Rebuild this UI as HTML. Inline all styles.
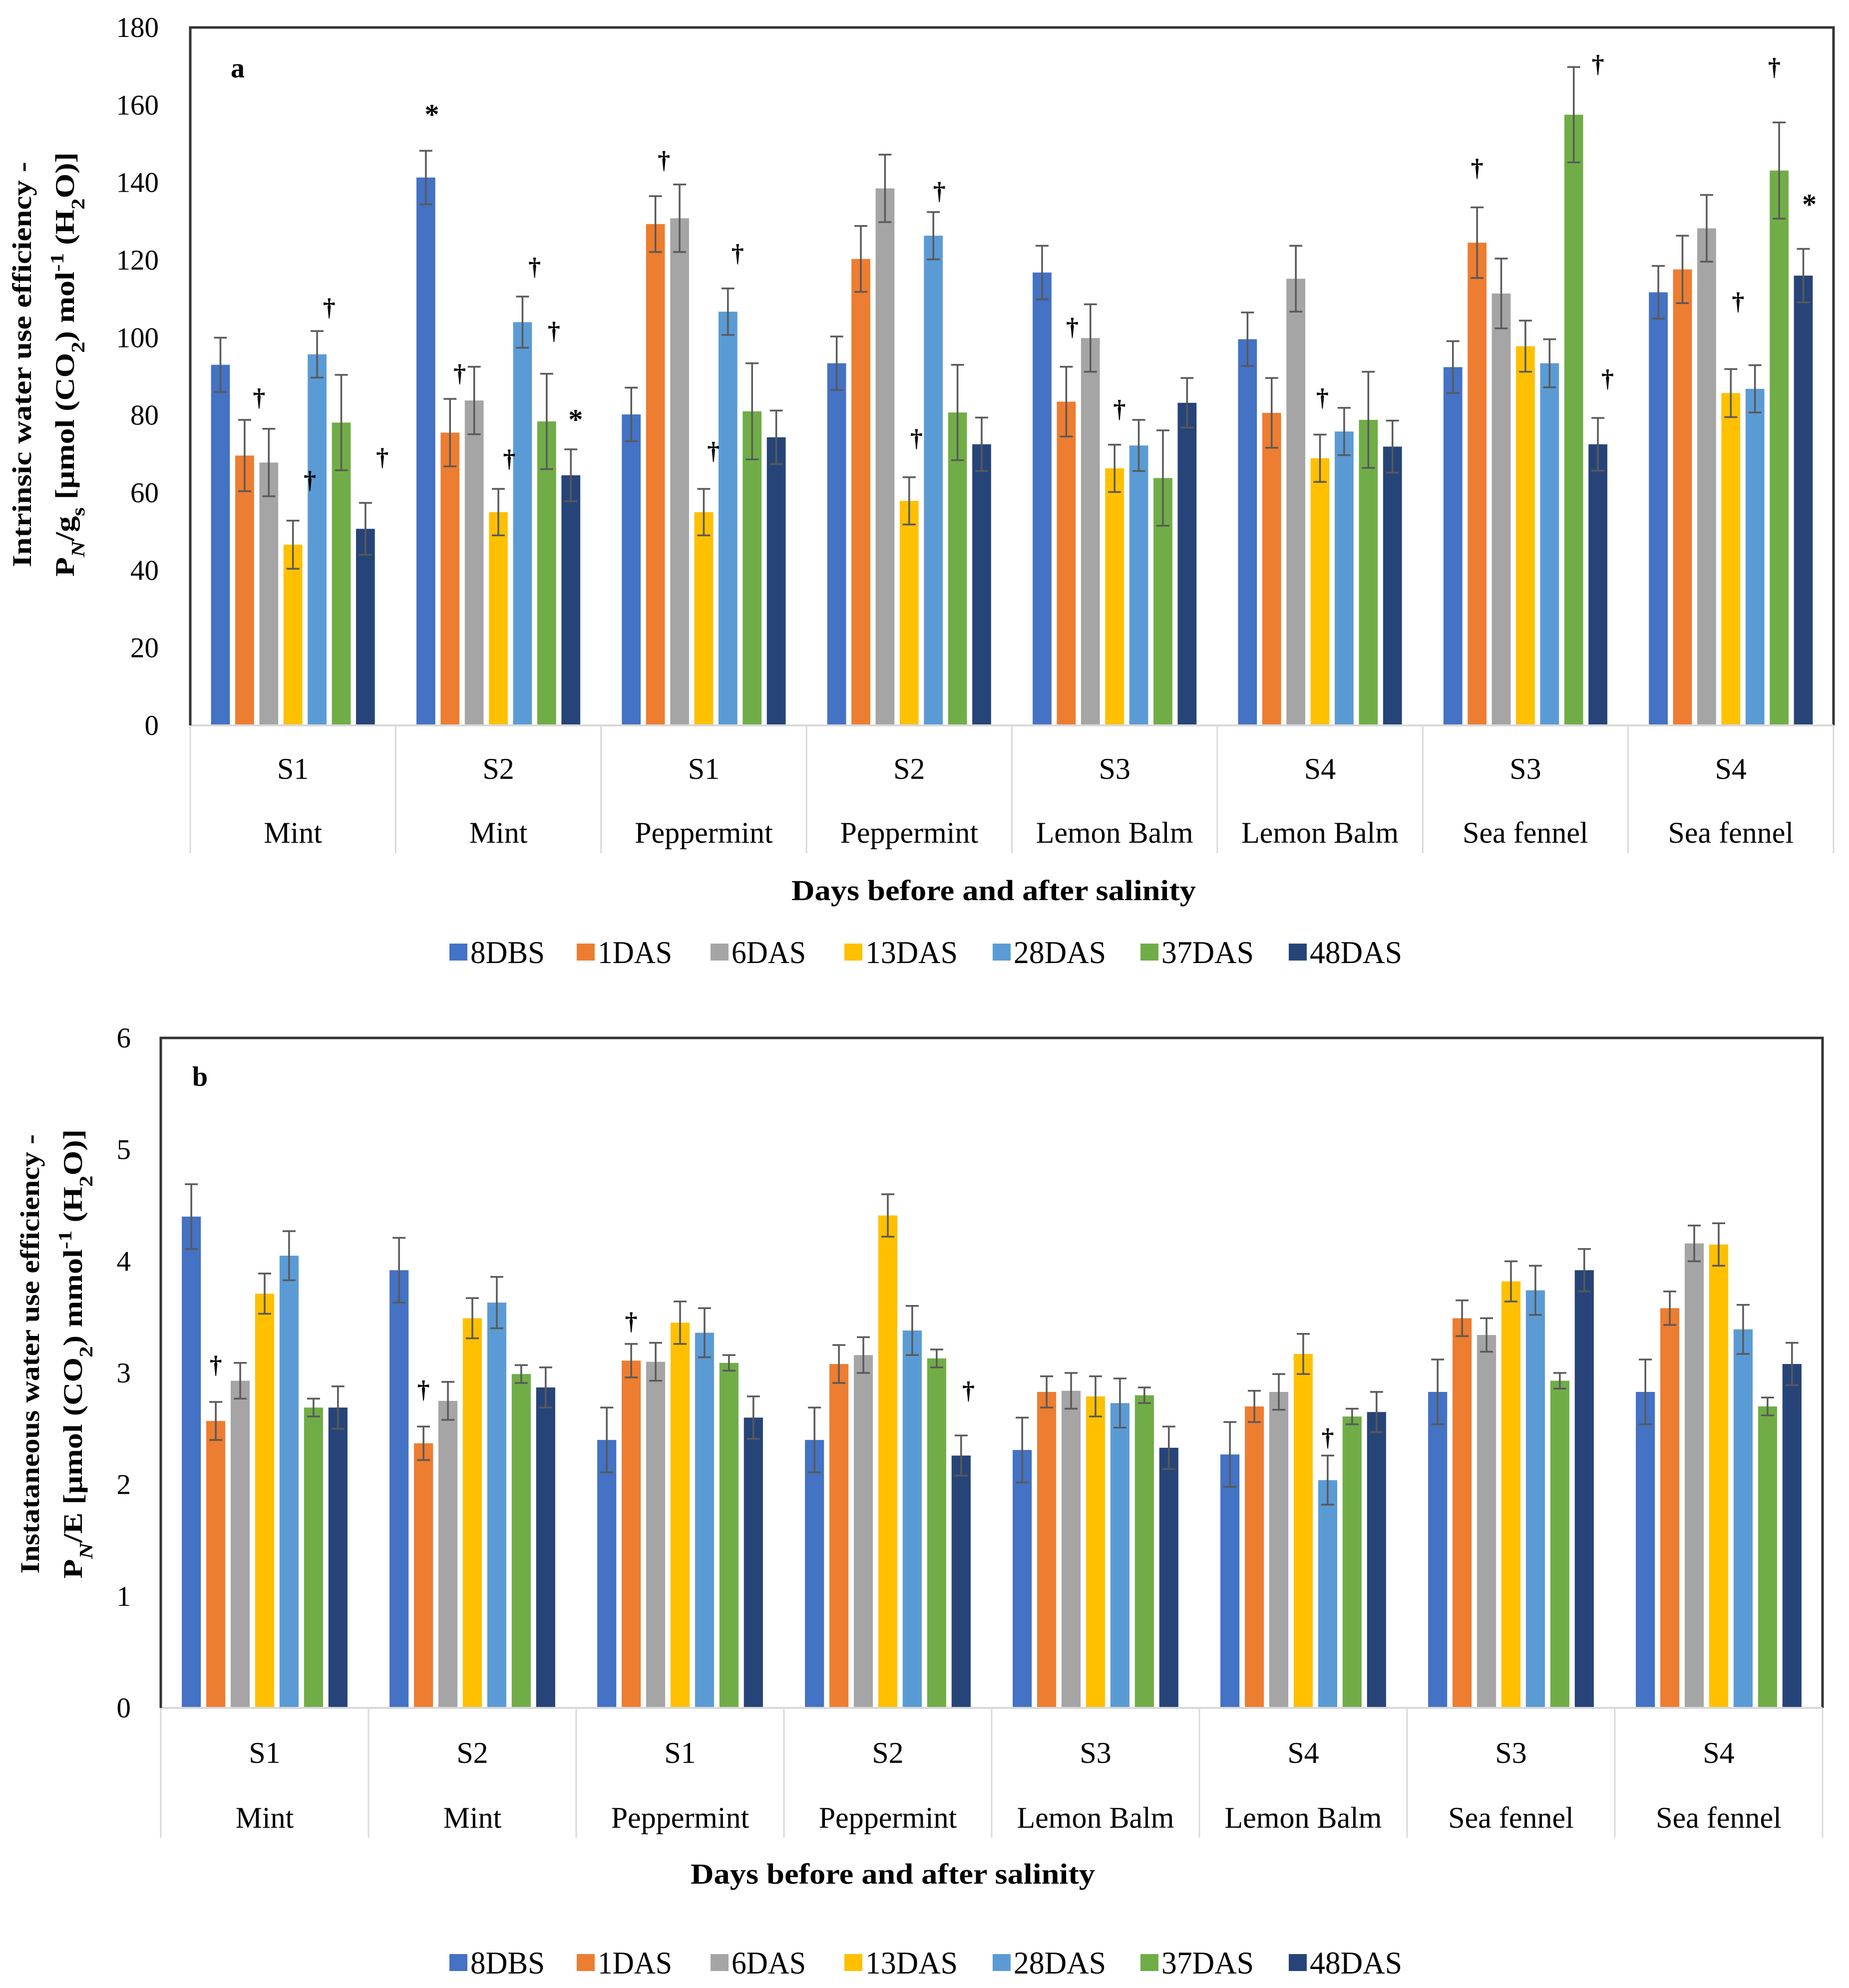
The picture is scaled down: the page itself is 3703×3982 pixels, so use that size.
<!DOCTYPE html>
<html><head><meta charset="utf-8">
<style>
html,body{margin:0;padding:0;background:#fff;}
svg{display:block;}
text{font-family:"Liberation Serif",serif;fill:#000;}
</style></head>
<body>
<svg id="root" width="3703" height="3982" viewBox="0 0 3703 3982" xmlns="http://www.w3.org/2000/svg"></svg>
<script>
const seriesNames = ["8DBS","1DAS","6DAS","13DAS","28DAS","37DAS","48DAS"];
const seriesColors = ["#4472C4","#ED7D31","#A5A5A5","#FFC000","#5B9BD5","#70AD47","#264478"];
const salinity = ["S1","S2","S1","S2","S3","S4","S3","S4"];
const plants = ["Mint","Mint","Peppermint","Peppermint","Lemon Balm","Lemon Balm","Sea fennel","Sea fennel"];

const aValues = [
 [93,69.6,67.8,46.6,95.7,78.1,50.7],
 [141.3,75.5,83.8,55,104,78.4,64.5],
 [80.2,129.3,130.8,55,106.7,81,74.3],
 [93.4,120.3,138.5,57.9,126.3,80.7,72.5],
 [116.8,83.5,99.9,66.3,72.2,63.8,83.2],
 [99.6,80.6,115.2,68.9,75.8,78.8,71.9],
 [92.4,124.5,111.4,97.8,93.4,157.5,72.5],
 [111.7,117.6,128.2,85.7,86.8,143.1,116]
];
const aErrors = [
 [7,9.2,8.7,6.2,6,12.3,6.7],
 [6.9,8.7,8.7,6,6.6,12.3,6.7],
 [6.9,7.2,8.7,6,6,12.4,6.9],
 [6.9,8.5,8.7,6.1,6.1,12.3,6.9],
 [6.9,9,8.7,6.1,6.6,12.3,6.4],
 [6.9,9,8.5,6.1,6.1,12.4,6.7],
 [6.7,9.1,9,6.6,6.2,12.3,6.8],
 [6.8,8.7,8.6,6.2,6.1,12.4,6.9]
];
const aTicks = [0,20,40,60,80,100,120,140,160,180];
const aMarkers = [
 [0,1,"†",84.8,0.6],[0,3,"†",63.5,0.7],[0,4,"†",108,0.5],[0,6,"†",69.4,0.7],
 [1,0,"*",158.7,0.25],[1,1,"†",91,0.4],[1,3,"†",69,0.45],[1,4,"†",118.5,0.5],[1,5,"†",102,0.3],[1,6,"*",80,0.2],
 [2,1,"†",146,0.35],[2,3,"†",71,0.4],[2,4,"†",122,0.4],
 [3,4,"†",138,0.25],[3,3,"†",74.3,0.3],
 [4,1,"†",103,0.25],[4,3,"†",81.8,0.2],
 [5,3,"†",84.8,0.1],
 [6,1,"†",144,0],[6,5,"†",170.8,1.0],[6,6,"†",89.7,0.4],
 [7,5,"†",170,-0.2],[7,3,"†",109.6,0.3],[7,6,"*",135.5,0.25]
];

const bValues = [
 [4.40,2.57,2.93,3.71,4.05,2.69,2.69],
 [3.92,2.37,2.75,3.49,3.63,2.99,2.87],
 [2.40,3.11,3.10,3.45,3.36,3.09,2.60],
 [2.40,3.08,3.16,4.41,3.38,3.13,2.26],
 [2.31,2.83,2.84,2.79,2.73,2.80,2.33],
 [2.27,2.70,2.83,3.17,2.04,2.61,2.65],
 [2.83,3.49,3.34,3.82,3.74,2.93,3.92],
 [2.83,3.58,4.16,4.15,3.39,2.70,3.08]
];
const bErrors = [
 [0.29,0.17,0.16,0.18,0.22,0.08,0.19],
 [0.29,0.15,0.17,0.18,0.23,0.08,0.18],
 [0.29,0.15,0.17,0.19,0.22,0.07,0.19],
 [0.29,0.17,0.16,0.19,0.22,0.08,0.18],
 [0.29,0.14,0.16,0.18,0.22,0.07,0.19],
 [0.29,0.14,0.16,0.18,0.22,0.07,0.18],
 [0.29,0.16,0.15,0.18,0.22,0.07,0.19],
 [0.29,0.15,0.16,0.19,0.22,0.08,0.19]
];
const bTicks = [0,1,2,3,4,5,6];
const bMarkers = [
 [0,1,"†",3.08,0],[1,1,"†",2.86,0],[2,1,"†",3.47,0],[3,6,"†",2.85,0.3],[5,4,"†",2.43,0]
];

const NS = "http://www.w3.org/2000/svg";
const root = document.getElementById("root");
function mk(tag, attrs, parent){
  const e = document.createElementNS(NS, tag);
  for (const k in attrs) e.setAttribute(k, attrs[k]);
  (parent||root).appendChild(e);
  return e;
}

function drawChart(cfg){
  const g = mk("g", {});
  
  
  const L=cfg.left, R=cfg.right, T=cfg.top, B=cfg.bottom;
  const catW = (R-L)/8;
  const y = v => B - (v - 0)/(cfg.max) * (B-T);
  const step = catW/8.5;
  const bw = step*0.78;
  const xBar = (c,s) => L + c*catW + 0.75*step + s*step + (step-bw)/2;

  const fr = mk("path", {d:`M${L} ${B} L${L} ${T} L${R} ${T} L${R} ${B}`, fill:"none", stroke:"#333", "stroke-width":5}, g);
  
  
  cfg.ticks.forEach(t=>{
    const tx = mk("text", {x:cfg.tickX, y:y(t)+19, "text-anchor":"end", "font-size":57}, g);
    tx.textContent = t;
    
    
  });
  for (let i=0;i<=8;i++){
    const ln = mk("line", {x1:L+i*catW, x2:L+i*catW, y1:B, y2:cfg.catBottom, stroke:"#d9d9d9", "stroke-width":3}, g);
    
    
  }
  cfg.values.forEach((row,c)=>{
    row.forEach((v,s)=>{
      const x = xBar(c,s);
      const r = mk("rect", {x:x, y:y(v), width:bw, height:B-y(v), fill:seriesColors[s]}, g);
      
      
      const e = cfg.errors[c][s];
      const cx = x + bw/2;
      const eb = mk("path", {d:`M${cx} ${y(v-e)} L${cx} ${y(v+e)} M${cx-13} ${y(v+e)} L${cx+13} ${y(v+e)} M${cx-13} ${y(v-e)} L${cx+13} ${y(v-e)}`, stroke:"#595959", "stroke-width":3.5, fill:"none"}, g);
      
      
    });
  });
  const xa = mk("line", {x1:L, x2:R, y1:B, y2:B, stroke:"#d9d9d9", "stroke-width":4}, g);
  
  
  const ya = mk("line", {x1:L, x2:L, y1:T, y2:B, stroke:"#333", "stroke-width":5}, g);
  
  
  cfg.markers.forEach(m=>{
    const cx = xBar(m[0],m[1]) + bw/2 + m[4]*step;
    const tx = mk("text", {x:cx, y:y(m[3]) + (m[2]==="*"?28:18), "text-anchor":"middle", "font-size":m[2]==="*"?58:50, "font-weight":"bold", "font-family":"DejaVu Sans, sans-serif"}, g);
    tx.textContent = m[2];
    
    
  });
  for (let i=0;i<8;i++){
    const cx = L + (i+0.5)*catW;
    const t1 = mk("text", {x:cx, y:cfg.sY, "text-anchor":"middle", "font-size":60}, g);
    t1.textContent = salinity[i];
    
    
    const t2 = mk("text", {x:cx, y:cfg.pY, "text-anchor":"middle", "font-size":60}, g);
    t2.textContent = plants[i];
    
    
  }
  const xt = mk("text", {x:cfg.xtX, y:cfg.xtY, "text-anchor":"middle", "font-size":58, "font-weight":"bold", textLength:810, lengthAdjust:"spacingAndGlyphs"}, g);
  xt.textContent = "Days before and after salinity";
  
  
  const pl = mk("text", {x:cfg.letterX, y:cfg.letterY, "font-size":56, "font-weight":"bold"}, g);
  pl.textContent = cfg.id;
  
  
  const yg = mk("g", {transform:`translate(${cfg.ytX},${cfg.ytY}) rotate(-90)`}, g);
  
  
  const l1 = mk("text", {x:0, y:0, "text-anchor":"middle", "font-size":54, "font-weight":"bold", textLength:cfg.yt1Len, lengthAdjust:"spacingAndGlyphs"}, yg);
  l1.textContent = cfg.yt1;
  const l2 = mk("text", {x:0, y:cfg.ytGap, "text-anchor":"middle", "font-size":54, "font-weight":"bold", textLength:cfg.yt2Len, lengthAdjust:"spacingAndGlyphs"}, yg);
  l2.innerHTML = cfg.yt2;
  const legX = [900,1155,1423,1691,1988,2284,2581];
  seriesNames.forEach((n,i)=>{
    const lg = mk("g", {}, g);
    
    
    mk("rect", {x:legX[i], y:cfg.legY-17, width:36, height:34, fill:seriesColors[i]}, lg);
    const lt = mk("text", {x:legX[i]+42, y:cfg.legY+22, "font-size":64, textLength:n.length*36+5, lengthAdjust:"spacingAndGlyphs"}, lg);
    lt.textContent = n;
  });
}

drawChart({id:"a", left:381, right:3672, top:55, bottom:1453, max:180, ticks:aTicks,
  values:aValues, errors:aErrors, markers:aMarkers, tickX:318, catBottom:1709,
  sY:1560, pY:1688, xtX:1990, xtY:1803, letterX:462, letterY:155, legY:1907,
  ytX:62, ytY:730, ytGap:86, yt1:"Intrinsic water use efficiency -", yt1Len:812, yt2Len:850,
  yt2:'P<tspan baseline-shift="sub" font-size="38" font-style="italic">N</tspan>/g<tspan baseline-shift="sub" font-size="38">s</tspan>  [μmol (CO<tspan baseline-shift="sub" font-size="38">2</tspan>) mol<tspan baseline-shift="super" font-size="38">-1</tspan> (H<tspan baseline-shift="sub" font-size="38">2</tspan>O)]'});

drawChart({id:"b", left:322, right:3650, top:2079, bottom:3421, max:6, ticks:bTicks,
  values:bValues, errors:bErrors, markers:bMarkers, tickX:262, catBottom:3681,
  sY:3531, pY:3661, xtX:1788, xtY:3773, letterX:385, letterY:2175, legY:3931,
  ytX:78, ytY:2712, ytGap:86, yt1:"Instataneous water use efficiency -", yt1Len:880, yt2Len:900,
  yt2:'P<tspan baseline-shift="sub" font-size="38" font-style="italic">N</tspan>/E [μmol (CO<tspan baseline-shift="sub" font-size="38">2</tspan>) mmol<tspan baseline-shift="super" font-size="38">-1</tspan> (H<tspan baseline-shift="sub" font-size="38">2</tspan>O)]'});
</script>
</body></html>
